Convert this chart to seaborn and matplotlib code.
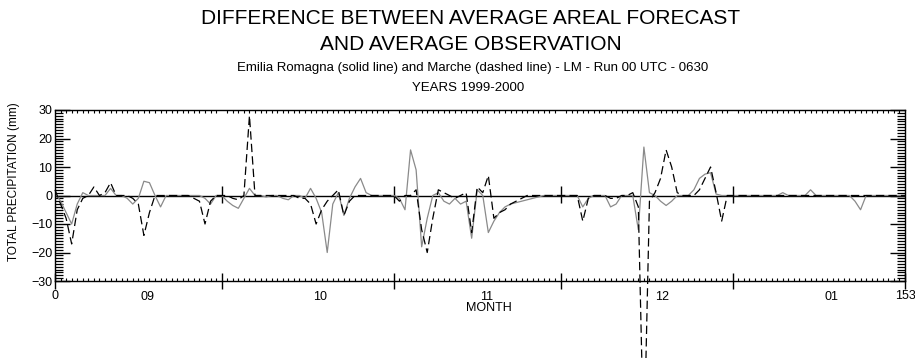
import numpy as np
import pandas as pd
import matplotlib
matplotlib.use("Agg")
import matplotlib.pyplot as plt
import seaborn as sns
from matplotlib.ticker import FixedLocator, MultipleLocator

# Daily forecast-minus-observation differences (mm), 1 Sep 1999 = day 0
days = np.arange(154)

emilia_romagna = [
    1, -2, -6, -10, -3, 1, 0, 0, 0, 0,            # 0-9
    2.5, 0, 0, -1, -3, -1, 5, 4.5, 0, -4,         # 10-19
    0, 0, 0, 0, 0, 0, 0, -1, -3, 0,               # 20-29
    0, -2, -3.5, -4.5, -1, 2.5, 0, 0, -0.5, 0,    # 30-39
    0, -1, -1.5, 0, 0, -1, 2.5, -1, -6, -20,      # 40-49
    -3, 1, -7, -1, 3, 6, 1, 0, 0, 0,              # 50-59
    0, 0, -1, -5, 16, 9, -18, -8, 0, 1,           # 60-69
    -2, -3, -1, -3, -2, -15, 2, 0, -13, -9,       # 70-79
    -6, -4, -3, -2.5, -2, -1.5, -1, -0.5, 0, 0,   # 80-89
    0, 0, 0, 0, 0, -4, -1, 0, 0, 0,               # 90-99
    -4, -3, 0, 0, 0, -12, 17, 1, 0, -2,           # 100-109
    -3.5, -2, 0, 0, 0, 2, 6, 7.5, 8, 0.5,         # 110-119
    0, 0, 0, 0, 0, 0, 0, 0, 0, 0,                 # 120-129
    0, 1, 0, 0, 0, 0, 2, 0, 0, 0,                 # 130-139
    0, 0, 0, 0, -2, -5, 0, 0, 0, 0,               # 140-149
    0, 0, 0, 0,                                   # 150-153
]

marche = [
    2, -3, -8, -17, -5, -1, 0, 3, 0, 1,           # 0-9
    4.5, 0, 0, 0, -1, -3, -14, -6, 0, 0,          # 10-19
    0, 0, 0, 0, 0, -1, -2, -10, -2, 0,            # 20-29
    0, 0, -1, -1.5, 0, 28, 0, 0, 0, 0,            # 30-39
    0, 0, 0, 0, -1, -1, -3, -10, -5, -2,          # 40-49
    0, 2, -7, -2, 0, 0, 0, 0, 0, 0,               # 50-59
    0, 0, -2, 0, 0, 2, -12, -20, -8, 2,           # 60-69
    1, 0, -1, 0, 1, -13, 3, 1, 7, -8,             # 70-79
    -6, -5, -3, -2, -1, 0, 0, 0, 0, 0,            # 80-89
    0, 0, 0, 0, 0, -9, -1, 0, 0, 0,               # 90-99
    -1, -1, 0, 0, 1, -4, -90, -2, 1, 6,           # 100-109
    16, 10, 1, 0, 0, 0, 2, 6, 10, 1,              # 110-119
    -9, 0, 0, 0, 0, 0, 0, 0, 0, 0,                # 120-129
    0, 0, 0, 0, 0, 0, 0, 0, 0, 0,                 # 130-139
    0, 0, 0, 0, 0, 0, 0, 0, 0, 0,                 # 140-149
    0, 0, 0, 0,                                   # 150-153
]

month_edges = [0, 30, 61, 91, 122, 153]
edge_labels = ["0", "", "", "", "", "153"]
month_label_days = [16.7, 47.7, 77.7, 109.2, 139.7]
month_labels = ["09", "10", "11", "12", "01"]
y_ticks = [-30, -20, -10, 0, 10, 20, 30]

sns.set_theme(style="white")
plt.rcParams["font.family"] = ["Liberation Sans", "DejaVu Sans"]
plt.rcParams["lines.scale_dashes"] = False

fig = plt.figure(figsize=(9.15, 3.58), dpi=100)
ax = fig.add_axes([55 / 915, 77 / 358, 850 / 915, 171 / 358])

df = pd.DataFrame({"day": days, "er": emilia_romagna, "marche": marche})

ax.axhline(0, color="black", lw=1.0, zorder=1)
ax.vlines(month_edges[1:-1], -2.5, 3.5, color="black", lw=1.0, zorder=1)

sns.lineplot(data=df, x="day", y="er", color="#8a8a8a", lw=0.9,
             errorbar=None, ax=ax, zorder=2)
sns.lineplot(data=df, x="day", y="marche", color="black", lw=0.9,
             linestyle=(0, (6, 3)), errorbar=None, ax=ax, zorder=3,
             clip_on=False)

ax.set_xlim(0, 153)
ax.set_ylim(-30, 30)
ax.set_xlabel("")
ax.set_ylabel("")

for side in ["left", "right", "top", "bottom"]:
    ax.spines[side].set_visible(True)
    ax.spines[side].set_color("black")
    ax.spines[side].set_linewidth(1.0)

# x axis: month boundaries and daily minor ticks
ax.xaxis.set_major_locator(FixedLocator(month_edges))
ax.set_xticklabels(edge_labels)
ax.xaxis.set_minor_locator(MultipleLocator(1))
ax.tick_params(axis="x", which="major", direction="inout", length=12,
               width=1.0, color="black", bottom=True, top=False,
               labelsize=9, labelcolor="black", pad=0.5)
ax.tick_params(axis="x", which="minor", direction="in", length=2,
               width=0.8, color="black", bottom=True, top=True)

# y axis: comb of 1 mm minor ticks on both sides
ax.yaxis.set_major_locator(FixedLocator(y_ticks))
ax.yaxis.set_minor_locator(MultipleLocator(1))
ax.tick_params(axis="y", which="major", direction="in", length=11,
               width=1.0, color="black", left=True, right=True,
               labelleft=True, labelright=False, labelsize=9,
               labelcolor="black", pad=2)
ax.tick_params(axis="y", which="minor", direction="in", length=6,
               width=0.9, color="black", left=True, right=True)

# month names under the axis
sec = ax.secondary_xaxis("bottom")
sec.set_xticks(month_label_days, labels=month_labels)
sec.tick_params(length=0, labelsize=9, labelcolor="black", pad=7)
sec.spines["bottom"].set_visible(False)

fig.text(489 / 915, 1 - 308 / 358, "MONTH", ha="center", va="center",
         fontsize=9, color="black")
fig.text(14 / 915, 1 - 182 / 358, "TOTAL PRECIPITATION (mm)", rotation=90,
         ha="center", va="center", fontsize=8.5, color="black")

fig.text(471 / 915, 1 - 19 / 358,
         "DIFFERENCE BETWEEN AVERAGE AREAL FORECAST",
         ha="center", va="center", fontsize=15, color="black")
fig.text(471 / 915, 1 - 45 / 358, "AND AVERAGE OBSERVATION",
         ha="center", va="center", fontsize=15, color="black")
fig.text(473 / 915, 1 - 68 / 358,
         "Emilia Romagna (solid line) and Marche (dashed line) - LM - Run 00 UTC - 0630",
         ha="center", va="center", fontsize=9.5, color="black")
fig.text(468 / 915, 1 - 88 / 358, "YEARS 1999-2000",
         ha="center", va="center", fontsize=9.5, color="black")

fig.savefig("out.png", dpi=100, facecolor="white")
